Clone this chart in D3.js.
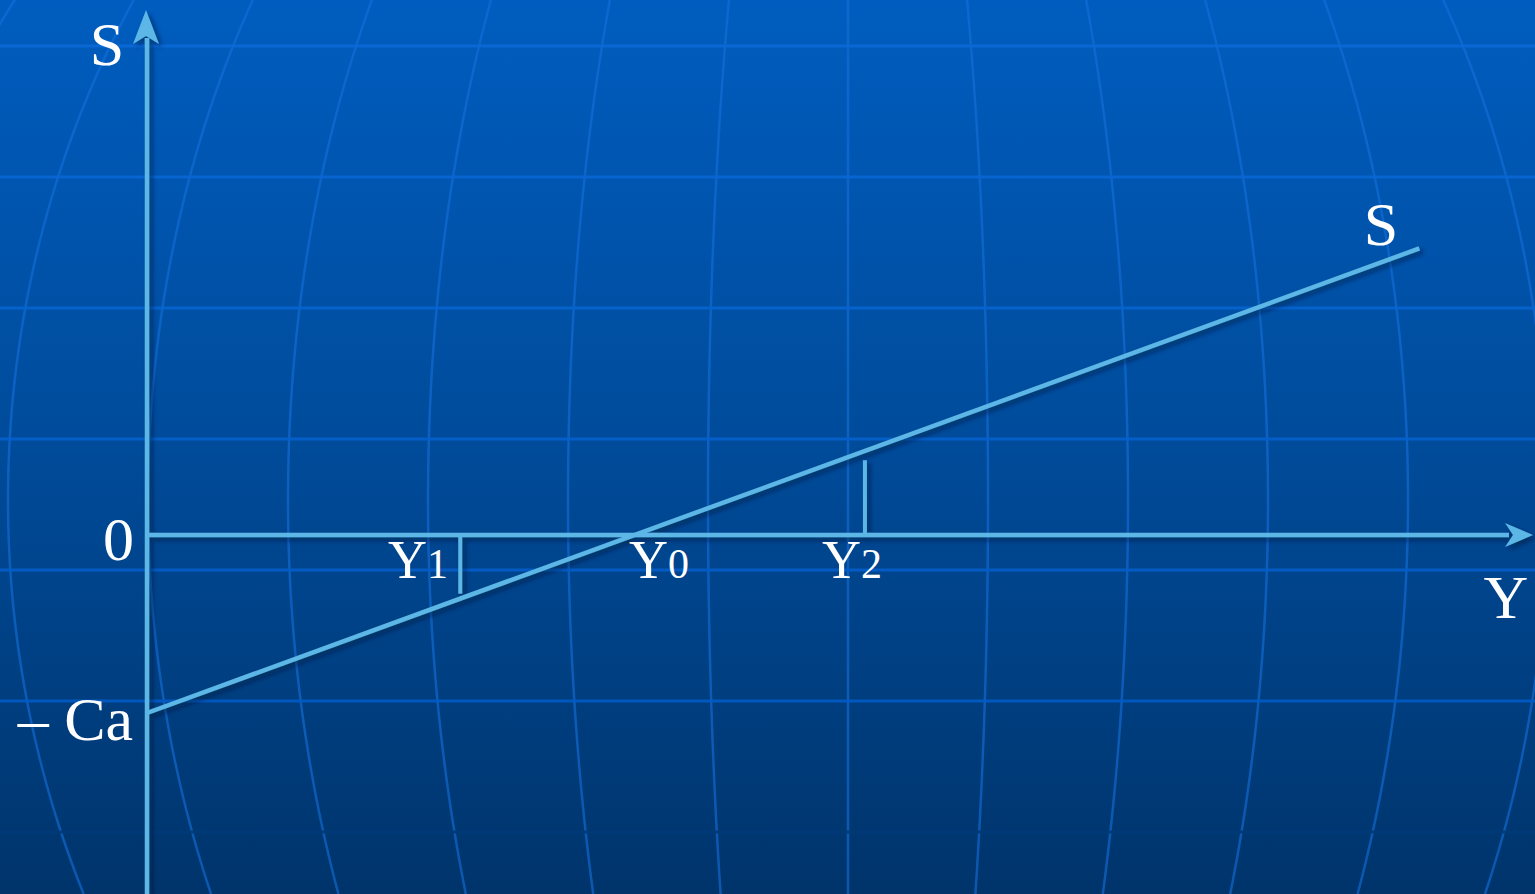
<!DOCTYPE html>
<html>
<head>
<meta charset="utf-8">
<script src="https://cdn.jsdelivr.net/npm/d3@7"></script>
<style>
  html, body { margin: 0; padding: 0; background: #004a98; overflow: hidden; }
  svg { display: block; }
</style>
</head>
<body>
<svg id="chart" width="1535" height="894"></svg>
<script>
// ---- data ----
const axisRangeY = [0, 10];          // Y (income) axis domain
const axisRangeS = [-2.02, 2.95];    // S (saving) axis domain
const savingLine = [ {y: 0, s: -1}, {y: 9.18, s: 1.61} ];   // S = -Ca + sY
const markLabels = ["Y1", "Y0", "Y2"];
const markValues = [2.26, 3.52, 5.18];
const markExtent = [-0.33, 0, 0.42];  // length of drop line from the Y axis
const axisTitles = ["S", "Y"];
const originLabel = "0";
const interceptLabel = "– Ca";
const lineLabel = "S";

// ---- setup ----
const W = 1535, H = 894;
const svg = d3.select("#chart");
const x = d3.scaleLinear().domain([0, 10]).range([147, 1533]);
const y = d3.scaleLinear().domain([-1, 0]).range([713, 535]);
const axisColor = "#5cb6e6";
const serif = "'Liberation Serif', 'Times New Roman', serif";

const defs = svg.append("defs");
const bg = defs.append("linearGradient").attr("id", "bg").attr("x1", 0).attr("y1", 0).attr("x2", 0).attr("y2", 1);
bg.append("stop").attr("offset", "0").attr("stop-color", "#005dbf");
bg.append("stop").attr("offset", "0.5").attr("stop-color", "#004b9a");
bg.append("stop").attr("offset", "1").attr("stop-color", "#00346b");

const gl = defs.append("linearGradient").attr("id", "gridH").attr("x1", 0).attr("y1", 0).attr("x2", 0).attr("y2", 1)
  .attr("gradientUnits", "userSpaceOnUse").attr("y2", H);
gl.append("stop").attr("offset", "0").attr("stop-color", "#0a6ad8");
gl.append("stop").attr("offset", "1").attr("stop-color", "#0056c0");

const sh = defs.append("filter").attr("id", "shadow").attr("x", "-10%").attr("y", "-10%").attr("width", "130%").attr("height", "130%");
sh.append("feDropShadow").attr("dx", 3).attr("dy", 3).attr("stdDeviation", 2.5)
  .attr("flood-color", "#001530").attr("flood-opacity", 0.55);

svg.append("rect").attr("width", W).attr("height", H).attr("fill", "url(#bg)");

// ---- background globe grid (decoration) ----
const grid = svg.append("g");
const cx = 848, cy = 500, R = 950, spacing = 140;
const meridians = d3.range(-7, 7);
const samples = d3.range(0, H + 1, 6);
const curve = d3.line().x(d => d[0]).y(d => d[1]).curve(d3.curveBasis);
meridians.forEach(k => {
  const pts = samples.map(py => {
    const t = (py - cy) / R;
    const f = Math.sqrt(Math.max(0, 1 - t * t));
    return [cx + k * spacing * f, py];
  });
  grid.append("path").attr("d", curve(pts)).attr("fill", "none")
    .attr("stroke", "#1470dc").attr("stroke-opacity", 0.6).attr("stroke-width", 2.5);
});
const rows = d3.range(0, 7);
rows.forEach(i => {
  const py = 46 + i * 131;
  grid.append("line").attr("x1", 0).attr("x2", W).attr("y1", py).attr("y2", py)
    .attr("stroke", i === 6 ? "#003a78" : "url(#gridH)").attr("stroke-width", 3.2)
    .attr("stroke-opacity", 0.9);
});

// ---- axes ----
const g = svg.append("g").attr("filter", "url(#shadow)");
// vertical S axis
g.append("line")
  .attr("x1", x(0)).attr("x2", x(0))
  .attr("y1", y(axisRangeS[0])).attr("y2", y(axisRangeS[1]) + 28)
  .attr("stroke", axisColor).attr("stroke-width", 4.5);
const tipS = [x(0) - 1, y(axisRangeS[1])];
g.append("path")
  .attr("d", `M${tipS[0]},${tipS[1]} L${tipS[0] + 13},${tipS[1] + 34} L${tipS[0]},${tipS[1] + 26} L${tipS[0] - 13},${tipS[1] + 34} Z`)
  .attr("fill", axisColor);

// horizontal Y axis
g.append("line")
  .attr("x1", x(0)).attr("x2", x(axisRangeY[1]) - 24)
  .attr("y1", y(0)).attr("y2", y(0))
  .attr("stroke", axisColor).attr("stroke-width", 4.5);
const tipY = [x(axisRangeY[1]), y(0)];
g.append("path")
  .attr("d", `M${tipY[0]},${tipY[1]} L${tipY[0] - 28},${tipY[1] - 12} L${tipY[0] - 20},${tipY[1]} L${tipY[0] - 28},${tipY[1] + 12} Z`)
  .attr("fill", axisColor);

// drop lines at Y1 and Y2
markValues.forEach((v, i) => {
  if (markExtent[i] === 0) return;
  g.append("line")
    .attr("x1", x(v)).attr("x2", x(v))
    .attr("y1", y(0)).attr("y2", y(markExtent[i]))
    .attr("stroke", axisColor).attr("stroke-width", 4);
});

// saving line
g.append("path")
  .datum(savingLine)
  .attr("d", d3.line().x(d => x(d.y)).y(d => y(d.s)))
  .attr("fill", "none").attr("stroke", axisColor).attr("stroke-width", 4.5);

// ---- labels ----
const txt = svg.append("g").attr("fill", "#ffffff").style("font-family", serif);
txt.append("text").attr("x", 107).attr("y", 65).attr("text-anchor", "middle")
  .style("font-size", "62px").text(axisTitles[0]);
txt.append("text").attr("x", 1506).attr("y", 618).attr("text-anchor", "middle")
  .style("font-size", "62px").text(axisTitles[1]);
txt.append("text").attr("x", 1381).attr("y", 245).attr("text-anchor", "middle")
  .style("font-size", "62px").text(lineLabel);
txt.append("text").attr("x", 134).attr("y", 560).attr("text-anchor", "end")
  .style("font-size", "62px").text(originLabel);
txt.append("text").attr("x", 133).attr("y", 740).attr("text-anchor", "end")
  .style("font-size", "62px").text(interceptLabel);

const labelLeft = [388, 629, 822];
markLabels.forEach((lab, i) => {
  const t = txt.append("text").attr("x", labelLeft[i]).attr("y", 578).style("font-size", "54px");
  t.append("tspan").text(lab[0]);
  t.append("tspan").style("font-size", "42px").text(lab.slice(1));
});
</script>
</body>
</html>
